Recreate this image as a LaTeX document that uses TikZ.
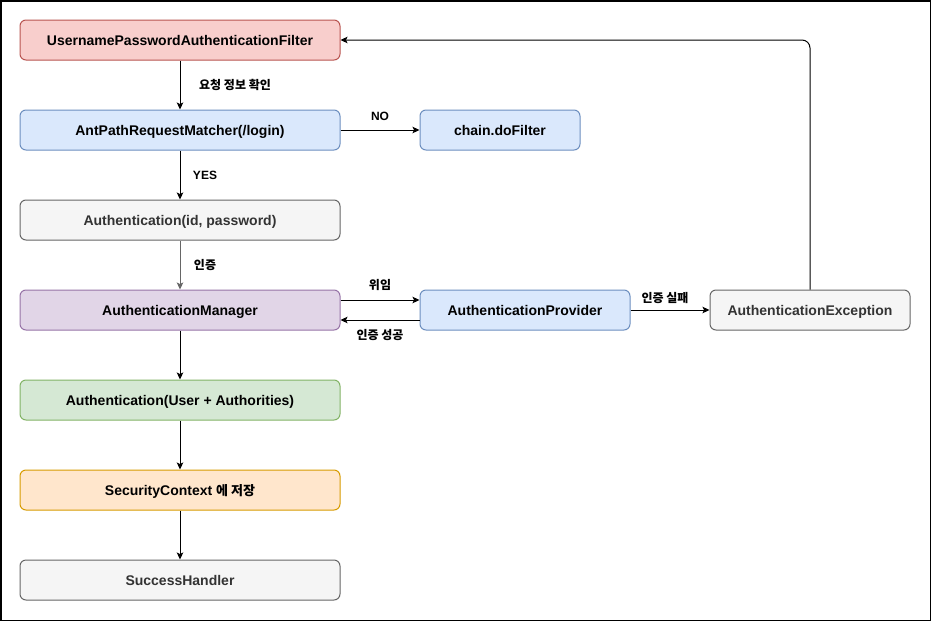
\documentclass[tikz,border=0pt]{standalone}
\usepackage{fontspec}
\usepackage{xcolor}
\setmainfont{Liberation Sans}
\newfontfamily\kr{Noto Sans CJK KR}
\usetikzlibrary{arrows.meta}
\definecolor{redF}{HTML}{F8CECC}\definecolor{redD}{HTML}{B85450}
\definecolor{bluF}{HTML}{DAE8FC}\definecolor{bluD}{HTML}{6C8EBF}
\definecolor{gryF}{HTML}{F5F5F5}\definecolor{gryD}{HTML}{666666}
\definecolor{purF}{HTML}{E1D5E7}\definecolor{purD}{HTML}{9673A6}
\definecolor{grnF}{HTML}{D5E8D4}\definecolor{grnD}{HTML}{82B366}
\definecolor{orgF}{HTML}{FFE6CC}\definecolor{orgD}{HTML}{D79B00}
\definecolor{gryT}{HTML}{333333}

\begin{document}
\begin{tikzpicture}[x=1pt,y=-1pt,line width=1pt,font=\fontsize{14}{16}\selectfont\bfseries]
      \useasboundingbox(0,0) rectangle (931,621);
      \tikzset{B/.style = {shape=rectangle, draw, rounded corners=6pt, minimum height=40pt, minimum width=320pt, inner sep=0pt, text height=11.5pt, text depth=0pt, text=black}}
      \tikzset{E/.style = {draw,-{Stealth[length=7pt,width=6.5pt,inset=1.5pt]}}}
      \tikzset{L/.style = {font=\fontsize{12}{14}\selectfont\bfseries}}
      \draw[line width=1.5pt] (0.75,0.75) rectangle (930.25,620.25);
      \node[B,fill=redF,draw=redD](f) at (180,40) {UsernamePasswordAuthenticationFilter};
      \node[B,fill=bluF,draw=bluD](m) at (180,130) {AntPathRequestMatcher(/login)};
      \node[B,fill=bluF,draw=bluD,minimum width=160pt](c) at (500,130) {chain.doFilter};
      \node[B,fill=gryF,draw=gryD,text=gryT](a) at (180,220) {Authentication(id, password)};
      \node[B,fill=purF,draw=purD](mg) at (180,310) {AuthenticationManager};
      \node[B,fill=bluF,draw=bluD,minimum width=210pt](p) at (525,310) {AuthenticationProvider};
      \node[B,fill=gryF,draw=gryD,text=gryT,minimum width=200pt](ex) at (810,310) {AuthenticationException};
      \node[B,fill=grnF,draw=grnD](u) at (180,400) {Authentication(User + Authorities)};
      \node[B,fill=orgF,draw=orgD](sc) at (180,490) {SecurityContext {\kr\fontsize{13}{16}\selectfont 에 저장}};
      \node[B,fill=gryF,draw=gryD,text=gryT](s) at (180,580) {SuccessHandler};
      % edge labels
      \node[L](l1) at (235,85) {\kr 요청 정보 확인};
      \node[L](l2) at (380,116) {NO};
      \node[L](l3) at (205,175) {YES};
      \node[L](l4) at (205,265) {\kr 인증};
      \node[L](l5) at (380,285) {\kr 위임};
      \node[L](l6) at (380,335) {\kr 인증 성공};
      \node[L](l7) at (665,298) {\kr 인증 실패};
      % connectors
      \draw[E](f) to (m);
      \draw[E](m) to (c);
      \draw[E](m) to (a);
      \draw[E,draw=gryD](a) to (mg);
      \draw[E]([yshift=10pt]mg.east) to ([yshift=10pt]p.west);
      \draw[E]([yshift=-10pt]p.west) to ([yshift=-10pt]mg.east);
      \draw[E](p) to (ex);
      \draw[E,rounded corners=8pt](ex.north) |- (f.east);
      \draw[E](mg) to (u);
      \draw[E](u) to (sc);
      \draw[E](sc) to (s);
    \end{tikzpicture}
\end{document}
